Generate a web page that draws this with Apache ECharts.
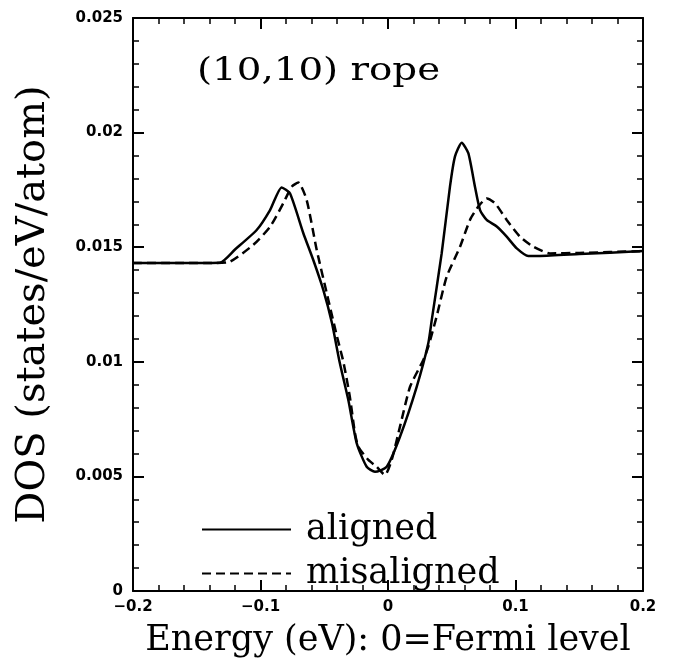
<!DOCTYPE html>
<html>
<head>
<meta charset="utf-8">
<script src="https://cdn.jsdelivr.net/npm/echarts@6/dist/echarts.min.js"></script>
<style>html,body{margin:0;padding:0;background:#fff}#c{width:673px;height:663px}</style>
</head>
<body>
<div id="c"></div>
<script>
const xTicks = [-0.2, -0.1, 0, 0.1, 0.2];
const yTicks = [0, 0.005, 0.01, 0.015, 0.02, 0.025];

const alignedE = [-0.2, -0.16, -0.132, -0.12, -0.103, -0.0925, -0.0834, -0.0769, -0.0664, -0.0586, -0.0507, -0.0440, -0.0380, -0.0310, -0.0245, -0.0167, -0.0102, -0.001, 0.0094, 0.0225, 0.0316, 0.0343, 0.0421, 0.0486, 0.0525, 0.0578, 0.063, 0.0682, 0.0722, 0.0774, 0.0853, 0.0931, 0.101, 0.110, 0.1192, 0.15, 0.2];
const alignedDOS = [0.01431, 0.01431, 0.01432, 0.0149, 0.01575, 0.01662, 0.01761, 0.01735, 0.01561, 0.01444, 0.01313, 0.01170, 0.01000, 0.00830, 0.00644, 0.00542, 0.00520, 0.00542, 0.00673, 0.00891, 0.01081, 0.01182, 0.01473, 0.01764, 0.01895, 0.01956, 0.0191, 0.01764, 0.01662, 0.01619, 0.0159, 0.01546, 0.01495, 0.01462, 0.01462, 0.0147, 0.01483];

const misE = [-0.2, -0.16, -0.135, -0.1239, -0.1057, -0.0925, -0.0821, -0.0755, -0.0703, -0.0638, -0.0559, -0.0468, -0.0400, -0.0350, -0.0300, -0.0259, -0.0233, -0.0154, -0.0089, -0.0024, 0.0029, 0.0094, 0.0173, 0.0277, 0.0316, 0.0381, 0.046, 0.0565, 0.0643, 0.0708, 0.0774, 0.0839, 0.0931, 0.1035, 0.114, 0.127, 0.15, 0.2];
const misDOS = [0.01431, 0.01431, 0.01431, 0.01437, 0.0151, 0.01589, 0.01692, 0.01764, 0.01782, 0.01706, 0.01488, 0.0127, 0.01110, 0.01000, 0.00850, 0.00688, 0.0063, 0.00572, 0.00542, 0.00506, 0.00572, 0.00717, 0.00891, 0.01008, 0.01066, 0.01197, 0.01371, 0.01502, 0.01619, 0.01677, 0.01713, 0.01692, 0.01619, 0.01546, 0.01502, 0.01473, 0.01475, 0.01483];

const seriesNames = ['aligned', 'misaligned'];
const panelLabel = '(10,10) rope';
const xTitle = 'Energy (eV): 0=Fermi level';
const yTitle = 'DOS (states/eV/atom)';

const zip = (a, b) => a.map((v, i) => [v, b[i]]);
const serif = '"DejaVu Serif", "Liberation Serif", serif';
const sans = '"DejaVu Sans", sans-serif';

function fmtX(v) {
  if (Math.abs(v) < 1e-9) return '0';
  const s = (Math.round(v * 10) / 10).toString();
  return s.replace('-', '\u2212');
}
function fmtY(v) {
  if (Math.abs(v) < 1e-12) return '0';
  return (Math.round(v * 1000) / 1000).toString();
}

const axisLine = { show: true, onZero: false, lineStyle: { color: '#000', width: 2 } };
const tick = { show: true, inside: true, length: 11, lineStyle: { color: '#000', width: 2 } };
const minor = { show: true, splitNumber: 5, length: 6, lineStyle: { color: '#000', width: 1.5 } };

const chart = echarts.init(document.getElementById('c'));
chart.setOption({
  animation: false,
  backgroundColor: '#fff',
  grid: { left: 133, right: 30, top: 18, bottom: 72 },
  xAxis: [
    {
      type: 'value', min: -0.2, max: 0.2, interval: 0.1, position: 'bottom',
      axisLine, axisTick: tick, minorTick: minor, splitLine: { show: false },
      axisLabel: { margin: 9, color: '#000', fontFamily: sans, fontWeight: 'bold', fontSize: 15, formatter: fmtX },
      name: xTitle, nameLocation: 'middle', nameGap: 32,
      nameTextStyle: { fontFamily: serif, fontSize: 35, color: '#000' }
    },
    {
      type: 'value', min: -0.2, max: 0.2, interval: 0.1, position: 'top',
      axisLine, axisTick: tick, minorTick: minor, splitLine: { show: false },
      axisLabel: { show: false }
    }
  ],
  yAxis: [
    {
      type: 'value', min: 0, max: 0.025, interval: 0.005, position: 'left',
      axisLine, axisTick: tick, minorTick: minor, splitLine: { show: false },
      axisLabel: { margin: 10, color: '#000', fontFamily: sans, fontWeight: 'bold', fontSize: 15, formatter: fmtY },
      name: yTitle, nameLocation: 'middle', nameGap: 79,
      nameTextStyle: { fontFamily: serif, fontSize: 40, color: '#000' }
    },
    {
      type: 'value', min: 0, max: 0.025, interval: 0.005, position: 'right',
      axisLine, axisTick: tick, minorTick: minor, splitLine: { show: false },
      axisLabel: { show: false }
    }
  ],
  legend: {
    orient: 'vertical', left: 196, top: 507, itemWidth: 89, itemHeight: 14, itemGap: 9,
    itemStyle: { opacity: 0 },
    textStyle: { fontFamily: serif, fontSize: 35, color: '#000', padding: [0, 0, 0, 10] },
    data: seriesNames.map(n => ({ name: n }))
  },
  graphic: [
    { type: 'text', left: 197, top: 56, scaleX: 1.25, originX: 197, originY: 78,
      style: { text: panelLabel, fontFamily: serif, fontSize: 31, fill: '#000' } }
  ],
  series: [
    {
      name: seriesNames[0], type: 'line', data: zip(alignedE, alignedDOS), xAxisIndex: 0, yAxisIndex: 0,
      showSymbol: false, symbol: 'none', smooth: 0.2,
      lineStyle: { color: '#000', width: 2.5, type: 'solid' }, itemStyle: { color: '#000' }
    },
    {
      name: seriesNames[1], type: 'line', data: zip(misE, misDOS), xAxisIndex: 0, yAxisIndex: 0,
      showSymbol: false, symbol: 'none', smooth: 0.2,
      lineStyle: { color: '#000', width: 2.5, type: [9, 5] }, itemStyle: { color: '#000' }
    }
  ]
});
</script>
</body>
</html>
